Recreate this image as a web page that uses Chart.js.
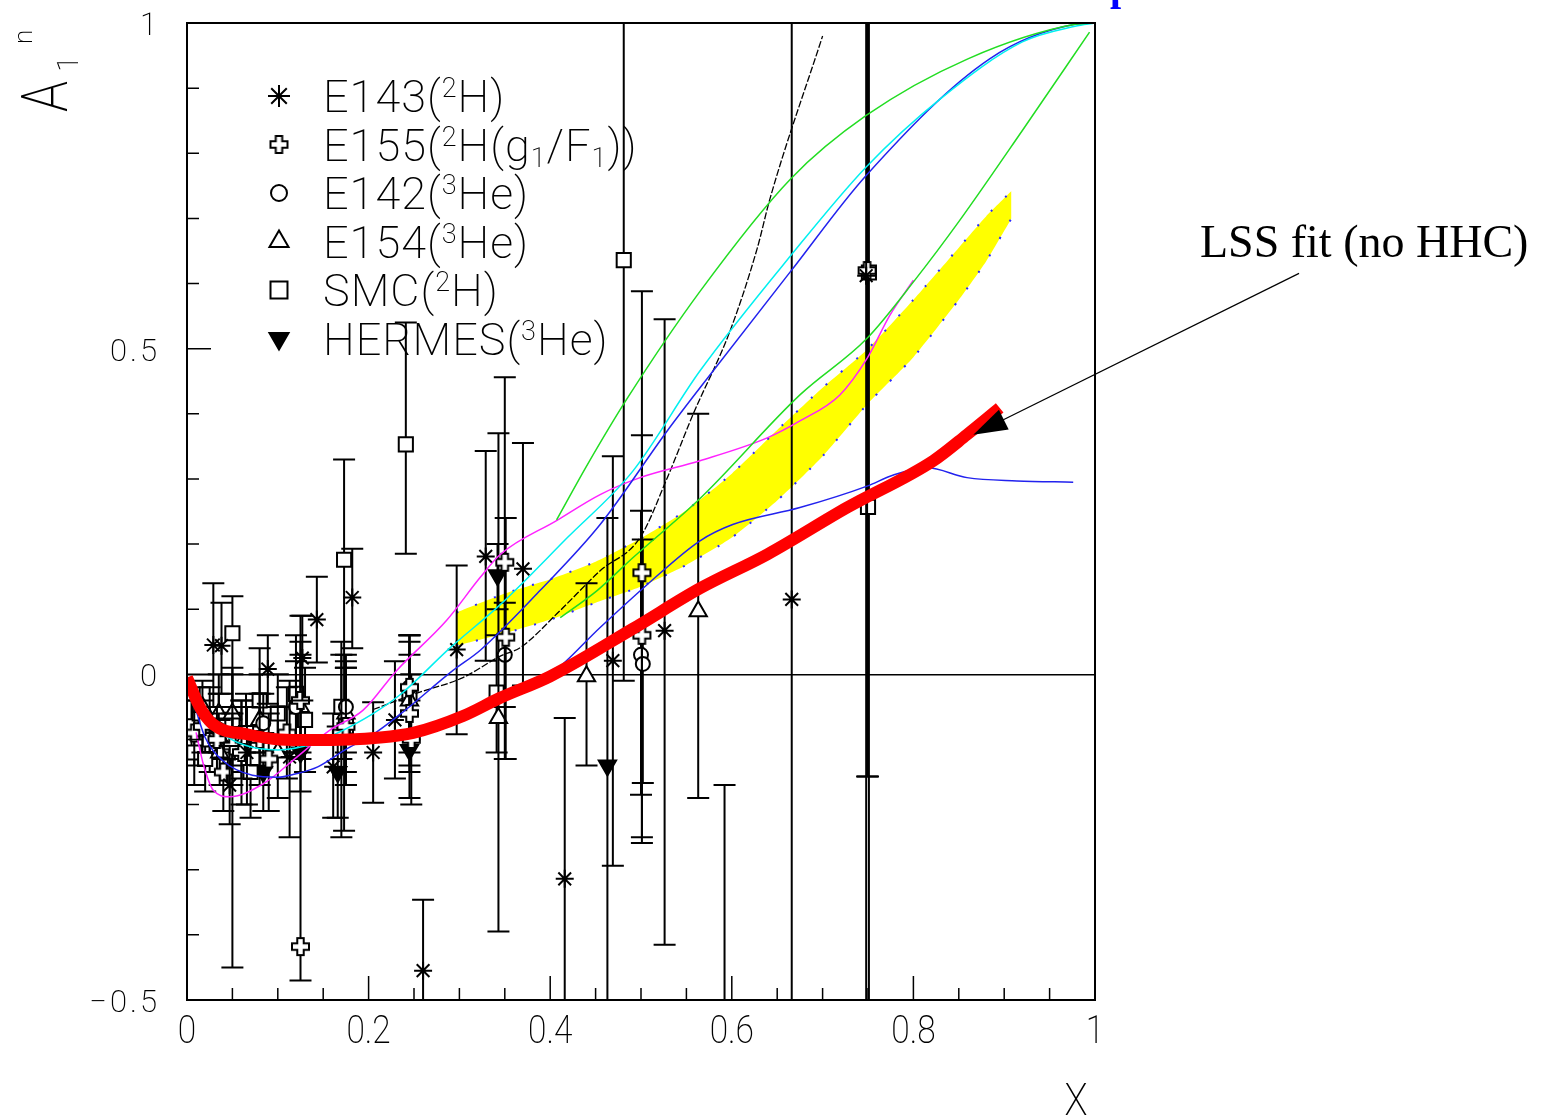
<!DOCTYPE html>
<html>
<head>
<meta charset="utf-8">
<script src="https://cdn.jsdelivr.net/npm/chart.js"></script>
<style>
  html, body { margin: 0; padding: 0; background: #fff; }
  canvas { display: block; }
</style>
</head>
<body>
<canvas id="chart" width="1541" height="1119" style="width:1541px;height:1119px"></canvas>
<script>
// Measurements: x, A1n, lower and upper end of each error bar
const e143X  = [0.029, 0.038, 0.047, 0.066, 0.089, 0.113, 0.127, 0.143, 0.161, 0.182, 0.205, 0.229, 0.260, 0.297, 0.329, 0.370, 0.416, 0.469, 0.526, 0.592, 0.666, 0.748];
const e143Y  = [0.045, 0.044, -0.170, -0.120, 0.008, -0.127, 0.025, 0.084, -0.142, 0.118, -0.120, -0.070, -0.455, 0.038, 0.181, 0.162, -0.314, 0.021, 0.067, -0.760, 0.115, 0.612];
const e143Lo = [-0.050, -0.030, -0.230, -0.200, -0.045, -0.250, -0.040, 0.018, -0.220, 0.040, -0.197, -0.160, -0.565, -0.092, 0.021, -0.017, -0.560, -0.294, -0.415, -1.300, -0.900, -0.700];
const e143Hi = [0.140, 0.110, -0.110, -0.050, 0.060, -0.010, 0.090, 0.150, -0.060, 0.193, -0.043, 0.020, -0.346, 0.167, 0.343, 0.355, -0.067, 0.335, 0.545, -0.170, 1.200, 1.200];

const e155X  = [0.008, 0.017, 0.033, 0.040, 0.050, 0.060, 0.080, 0.090, 0.110, 0.125, 0.125, 0.170, 0.175, 0.245, 0.245, 0.247, 0.350, 0.351, 0.501, 0.501, 0.749];
const e155Y  = [-0.090, -0.080, -0.100, -0.150, -0.110, -0.120, -0.100, -0.130, -0.090, -0.040, -0.418, -0.090, -0.080, -0.020, -0.060, -0.100, 0.172, 0.057, 0.156, 0.060, 0.620];
const e155Lo = [-0.140, -0.120, -0.150, -0.210, -0.170, -0.200, -0.170, -0.210, -0.160, -0.120, -0.470, -0.250, -0.170, -0.100, -0.150, -0.200, -0.130, -0.130, -0.259, -0.250, -0.157];
const e155Hi = [-0.040, -0.040, -0.050, -0.090, -0.050, -0.040, -0.030, -0.060, -0.020, 0.050, 0.090, 0.050, 0.010, 0.060, 0.030, 0.000, 0.456, 0.240, 0.588, 0.367, 1.200];

const e142X  = [0.035, 0.050, 0.084, 0.120, 0.175, 0.245, 0.350, 0.500, 0.502];
const e142Y  = [-0.085, -0.095, -0.075, -0.050, -0.050, -0.020, 0.030, 0.030, 0.016];
const e142Lo = [-0.110, -0.130, -0.120, -0.120, -0.120, -0.090, -0.050, -0.185, -0.167];
const e142Hi = [-0.060, -0.060, -0.030, 0.020, 0.020, 0.050, 0.110, 0.251, 0.207];

const e154X  = [0.017, 0.025, 0.035, 0.036, 0.050, 0.060, 0.080, 0.100, 0.125, 0.175, 0.245, 0.343, 0.440, 0.563];
const e154Y  = [-0.050, -0.070, -0.060, -0.120, -0.060, -0.100, -0.070, -0.120, -0.050, -0.060, -0.040, -0.067, -0.003, 0.097];
const e154Lo = [-0.090, -0.120, -0.120, -0.170, -0.130, -0.160, -0.140, -0.190, -0.130, -0.150, -0.140, -0.395, -0.140, -0.190];
const e154Hi = [-0.010, -0.020, 0.000, -0.070, 0.010, -0.040, 0.000, -0.050, 0.030, 0.030, 0.060, 0.370, 0.140, 0.400];

const smcX  = [0.005, 0.008, 0.014, 0.020, 0.025, 0.035, 0.045, 0.050, 0.050, 0.065, 0.070, 0.080, 0.100, 0.120, 0.130, 0.170, 0.173, 0.175, 0.241, 0.245, 0.341, 0.481, 0.750, 0.751];
const smcY  = [-0.080, -0.120, -0.060, -0.130, -0.100, -0.080, -0.120, 0.063, -0.070, -0.090, -0.150, -0.040, -0.060, -0.030, -0.070, -0.050, 0.176, -0.080, 0.353, -0.030, -0.028, 0.636, 0.257, 0.617];
const smcLo = [-0.120, -0.170, -0.100, -0.180, -0.150, -0.130, -0.170, -0.450, -0.140, -0.150, -0.220, -0.120, -0.120, -0.120, -0.150, -0.130, -0.240, -0.170, 0.185, -0.120, -0.120, -0.010, -0.157, -0.700];
const smcHi = [-0.040, -0.070, -0.020, -0.080, -0.050, -0.030, -0.070, 0.120, 0.000, -0.030, -0.080, 0.040, 0.000, 0.060, 0.010, 0.030, 0.330, 0.010, 0.540, 0.060, 0.060, 1.200, 1.200, 1.200];

const hermesX  = [0.033, 0.048, 0.066, 0.084, 0.125, 0.166, 0.245, 0.342, 0.463];
const hermesY  = [-0.100, -0.110, -0.100, -0.150, -0.120, -0.150, -0.116, 0.152, -0.140];
const hermesLo = [-0.130, -0.150, -0.150, -0.210, -0.180, -0.220, -0.190, 0.100, -0.520];
const hermesHi = [-0.070, -0.070, -0.050, -0.090, -0.060, -0.080, -0.040, 0.200, 0.240];

// Model curves
const lssX = [0, 0.014, 0.029, 0.066, 0.102, 0.139, 0.213, 0.249, 0.304, 0.345, 0.400, 0.491, 0.565, 0.639, 0.727, 0.822, 0.859, 0.895];
const lssY = [-0.005, -0.050, -0.077, -0.092, -0.100, -0.101, -0.097, -0.090, -0.064, -0.036, -0.003, 0.070, 0.132, 0.184, 0.256, 0.328, 0.368, 0.409];

const bandX  = [0.297, 0.350, 0.400, 0.450, 0.500, 0.550, 0.600, 0.650, 0.700, 0.750, 0.800, 0.850, 0.880, 0.908];
const bandHi = [0.095, 0.124, 0.146, 0.173, 0.209, 0.252, 0.308, 0.375, 0.440, 0.500, 0.575, 0.655, 0.703, 0.742];
const bandLo = [0.044, 0.063, 0.084, 0.110, 0.135, 0.168, 0.210, 0.267, 0.335, 0.416, 0.487, 0.575, 0.634, 0.700];

const green1X = [0.407, 0.441, 0.485, 0.565, 0.665, 0.748, 0.860, 0.978, 1.0];
const green1Y = [0.237, 0.322, 0.424, 0.588, 0.761, 0.858, 0.945, 0.998, 1.0];
const green2X = [0.411, 0.452, 0.491, 0.565, 0.675, 0.749, 0.802, 0.850, 0.920, 0.994];
const green2Y = [0.087, 0.129, 0.179, 0.270, 0.429, 0.516, 0.606, 0.695, 0.835, 0.986];
const cyanX = [0.009, 0.031, 0.064, 0.100, 0.138, 0.163, 0.204, 0.235, 0.290, 0.345, 0.419, 0.491, 0.565, 0.665, 0.748, 0.830, 0.920, 0.978, 1.0];
const cyanY = [-0.054, -0.084, -0.109, -0.116, -0.107, -0.092, -0.061, -0.031, 0.041, 0.107, 0.210, 0.312, 0.466, 0.643, 0.779, 0.884, 0.971, 0.995, 1.0];
const blue1X = [0.009, 0.020, 0.039, 0.072, 0.100, 0.119, 0.144, 0.174, 0.204, 0.235, 0.293, 0.323, 0.389, 0.455, 0.529, 0.565, 0.665, 0.748, 0.884, 0.978, 1.0];
const blue1Y = [-0.051, -0.097, -0.132, -0.155, -0.158, -0.153, -0.142, -0.116, -0.093, -0.061, 0.006, 0.037, 0.129, 0.230, 0.374, 0.440, 0.619, 0.766, 0.945, 0.998, 1.0];
const blue2X = [0.370, 0.400, 0.455, 0.507, 0.565, 0.601, 0.675, 0.749, 0.778, 0.815, 0.859, 0.914, 0.976];
const blue2Y = [-0.017, 0.000, 0.072, 0.138, 0.205, 0.230, 0.256, 0.289, 0.306, 0.317, 0.302, 0.297, 0.295];
const magentaX = [0.010, 0.018, 0.029, 0.047, 0.084, 0.121, 0.157, 0.194, 0.231, 0.286, 0.323, 0.345, 0.407, 0.455, 0.499, 0.565, 0.639, 0.675, 0.719, 0.749, 0.774, 0.800];
const magentaY = [-0.089, -0.138, -0.178, -0.188, -0.168, -0.127, -0.086, -0.055, 0.006, 0.083, 0.149, 0.184, 0.236, 0.276, 0.302, 0.328, 0.363, 0.389, 0.429, 0.485, 0.551, 0.605];
const blackX = [0.205, 0.253, 0.304, 0.345, 0.367, 0.411, 0.455, 0.499, 0.529, 0.557, 0.598, 0.628, 0.642, 0.700];
const blackY = [-0.054, -0.029, -0.005, 0.028, 0.041, 0.098, 0.159, 0.210, 0.302, 0.398, 0.527, 0.654, 0.730, 0.980];

const legendLabels = ['E143(^2H)', 'E155(^2H(g_1/F_1))', 'E142(^3He)', 'E154(^3He)', 'SMC(^2H)', 'HERMES(^3He)'];
const xTicks = [0, 0.2, 0.4, 0.6, 0.8, 1];
const yTicks = [-0.5, 0, 0.5, 1];
const fitLabel = 'LSS fit (no HHC)';

const FONT = 'Roboto, "Open Sans", "Liberation Sans", sans-serif';

const pts = (xs, ys) => xs.map((x, i) => ({ x: x, y: ys[i] }));

// open plus marker used for E155
function openCross(s) {
  const c = document.createElement('canvas');
  c.width = 2 * s + 4; c.height = 2 * s + 4;
  const g = c.getContext('2d');
  const a = s * 0.38, b = s, m = s + 2;
  g.beginPath();
  g.moveTo(m - a, m - b); g.lineTo(m + a, m - b); g.lineTo(m + a, m - a); g.lineTo(m + b, m - a);
  g.lineTo(m + b, m + a); g.lineTo(m + a, m + a); g.lineTo(m + a, m + b); g.lineTo(m - a, m + b);
  g.lineTo(m - a, m + a); g.lineTo(m - b, m + a); g.lineTo(m - b, m - a); g.lineTo(m - a, m - a);
  g.closePath();
  g.fillStyle = '#fff'; g.fill();
  g.lineWidth = 2; g.strokeStyle = '#000'; g.stroke();
  return c;
}
const crossImg = openCross(8.5);

function markerSet(label, xs, ys, lo, hi, style) {
  return Object.assign({
    label: label,
    data: pts(xs, ys),
    yLow: lo,
    yHigh: hi,
    showLine: false,
    borderColor: '#000',
    backgroundColor: '#fff',
    borderWidth: 2,
    order: 2
  }, style);
}

function curve(xs, ys, color, width, extra) {
  return Object.assign({
    data: pts(xs, ys),
    showLine: true,
    borderColor: color,
    borderWidth: width,
    pointRadius: 0,
    fill: false,
    cubicInterpolationMode: 'monotone',
    order: 1
  }, extra || {});
}

// superscript ^x and subscript _x in labels
function runs(str) {
  const out = [];
  for (let i = 0; i < str.length; i++) {
    const c = str[i];
    if ((c === '^' || c === '_') && i + 1 < str.length) { out.push({ ch: str[i + 1], mode: c }); i++; }
    else out.push({ ch: c, mode: '' });
  }
  return out;
}

function drawRich(ctx, str, x, y, o) {
  const rs = runs(str);
  const font = m => `${o.weight || 300} ${m ? Math.round(o.size * 0.6) : o.size}px ${o.family || FONT}`;
  let w = 0;
  rs.forEach(r => { ctx.font = font(r.mode); r.w = ctx.measureText(r.ch).width * (o.sx || 1); w += r.w + (o.gap || 0); });
  w -= (o.gap || 0);
  let cx = o.align === 'right' ? x - w : o.align === 'center' ? x - w / 2 : x;
  rs.forEach(r => {
    ctx.font = font(r.mode);
    const dy = r.mode === '^' ? -o.size * 0.33 : r.mode === '_' ? o.size * 0.14 : 0;
    ctx.save();
    ctx.translate(cx, y + dy);
    ctx.scale(o.sx || 1, 1);
    ctx.fillText(r.ch, 0, 0);
    ctx.restore();
    cx += r.w + (o.gap || 0);
  });
}

const markerDatasets = [
  markerSet('E143(2H)', e143X, e143Y, e143Lo, e143Hi, { pointStyle: 'star', pointRadius: 9, legendRadius: 11 }),
  markerSet('E155(2H(g1/F1))', e155X, e155Y, e155Lo, e155Hi, { pointStyle: crossImg, pointRadius: 9, legendRadius: 9 }),
  markerSet('E142(3He)', e142X, e142Y, e142Lo, e142Hi, { pointStyle: 'circle', pointRadius: 7, legendRadius: 8 }),
  markerSet('E154(3He)', e154X, e154Y, e154Lo, e154Hi, { pointStyle: 'triangle', pointRadius: 10, legendRadius: 11 }),
  markerSet('SMC(2H)', smcX, smcY, smcLo, smcHi, { pointStyle: 'rect', pointRadius: 10, legendRadius: 12 }),
  markerSet('HERMES(3He)', hermesX, hermesY, hermesLo, hermesHi, { pointStyle: 'triangle', pointRadius: 10, legendRadius: 11, rotation: 180, backgroundColor: '#000' })
];

// error bars, drawn just under each marker set
const errorBars = {
  id: 'errorBars',
  beforeDatasetDraw(chart, args) {
    const ds = chart.data.datasets[args.index];
    if (!ds.yLow) return;
    const { ctx, chartArea: a, scales: { x, y } } = chart;
    ctx.save();
    ctx.beginPath();
    ctx.rect(a.left, a.top, a.right - a.left, a.bottom - a.top);
    ctx.clip();
    ctx.strokeStyle = '#000';
    ctx.lineWidth = 2;
    ds.data.forEach((p, i) => {
      const px = x.getPixelForValue(p.x);
      const lo = y.getPixelForValue(ds.yLow[i]);
      const hi = y.getPixelForValue(ds.yHigh[i]);
      ctx.beginPath();
      ctx.moveTo(px, lo); ctx.lineTo(px, hi);
      ctx.moveTo(px - 11, lo); ctx.lineTo(px + 11, lo);
      ctx.moveTo(px - 11, hi); ctx.lineTo(px + 11, hi);
      ctx.stroke();
    });
    ctx.restore();
  }
};

// frame, inward ticks, labels, legend and the annotation
const decorations = {
  id: 'decorations',
  afterDraw(chart) {
    const { ctx, chartArea: a, scales: { x, y } } = chart;
    ctx.save();
    ctx.strokeStyle = '#000';
    ctx.fillStyle = '#000';
    ctx.lineWidth = 2;
    ctx.strokeRect(a.left, a.top, a.right - a.left, a.bottom - a.top);

    ctx.lineWidth = 1.5;
    ctx.beginPath();
    for (let i = 0; i <= 20; i++) {
      const v = i * 0.05, px = x.getPixelForValue(v);
      const len = (i % 4 === 0) ? 24 : 12;
      ctx.moveTo(px, a.bottom); ctx.lineTo(px, a.bottom - len);
    }
    for (let i = -5; i <= 10; i++) {
      const py = y.getPixelForValue(i / 10);
      const len = (i % 5 === 0) ? 24 : 12;
      ctx.moveTo(a.left, py); ctx.lineTo(a.left + len, py);
    }
    ctx.stroke();

    xTicks.forEach(v => drawRich(ctx, String(v), x.getPixelForValue(v), a.bottom + 43, { size: 38, align: 'center', sx: 0.88, weight: 200 }));
    yTicks.forEach(v => drawRich(ctx, String(v).replace('-', '\u2212'), a.left - 30, y.getPixelForValue(v) + 12, { size: 31, align: 'right', gap: 3, weight: 200 }));

    drawRich(ctx, 'X', 1076, 1115, { size: 45, align: 'center', sx: 0.85, weight: 200 });

    // rotated axis title A_1^n
    ctx.save();
    ctx.translate(67, 112);
    ctx.rotate(-Math.PI / 2);
    drawRich(ctx, 'A', 0, 0, { size: 64, sx: 0.8, weight: 200 });
    drawRich(ctx, '1', 40, 11, { size: 30, weight: 200 });
    drawRich(ctx, 'n', 68, -35, { size: 26, weight: 200 });
    ctx.restore();

    // legend
    markerDatasets.forEach((ds, i) => {
      const cy = 96 + i * 48.5;
      ctx.save();
      ctx.fillStyle = ds.backgroundColor;
      ctx.strokeStyle = '#000';
      ctx.lineWidth = 2;
      Chart.helpers.drawPoint(ctx, { pointStyle: ds.pointStyle, radius: ds.legendRadius, rotation: ds.rotation || 0, borderWidth: 2 }, 279, cy);
      ctx.restore();
      drawRich(ctx, legendLabels[i], 323, cy + 16, { size: 45, gap: 1, weight: 200 });
    });

    // arrow pointing at the LSS curve
    const tipX = x.getPixelForValue(0.866), tipY = y.getPixelForValue(0.368);
    const tailX = x.getPixelForValue(1.2247), tailY = y.getPixelForValue(0.6156);
    const dx = tipX - tailX, dy = tipY - tailY, d = Math.hypot(dx, dy);
    const ux = dx / d, uy = dy / d;
    ctx.lineWidth = 1.2;
    ctx.beginPath();
    ctx.moveTo(tailX, tailY);
    ctx.lineTo(tipX - ux * 20, tipY - uy * 20);
    ctx.stroke();
    ctx.beginPath();
    ctx.moveTo(tipX, tipY);
    ctx.lineTo(tipX - ux * 34 + uy * 11, tipY - uy * 34 - ux * 11);
    ctx.lineTo(tipX - ux * 34 - uy * 11, tipY - uy * 34 + ux * 11);
    ctx.closePath();
    ctx.fill();

    ctx.font = '46px "Liberation Serif", "Times New Roman", serif';
    ctx.textAlign = 'left';
    ctx.fillText(fitLabel, 1200, 257);

    // clipped title fragment at the top edge
    ctx.fillStyle = '#0000ff';
    ctx.font = 'bold 40px "Liberation Serif", serif';
    ctx.fillText('p', 1110, 0);
    ctx.restore();
  }
};

new Chart(document.getElementById('chart'), {
  type: 'scatter',
  data: {
    datasets: [
      curve(bandX, bandHi, '#2a2aff', 2, { order: 3, borderDash: [2, 18], cubicInterpolationMode: 'default', tension: 0.2 }),
      curve(bandX, bandLo, '#2a2aff', 2, { order: 3, borderDash: [2, 18], fill: '-1', backgroundColor: '#ffff00', cubicInterpolationMode: 'default', tension: 0.2 }),
      ...markerDatasets,
      curve(green1X, green1Y, '#22dd22', 1.5),
      curve(green2X, green2Y, '#22dd22', 1.5),
      curve(cyanX, cyanY, '#00f0f0', 1.5),
      curve(blue1X, blue1Y, '#2222ee', 1.5),
      curve(blue2X, blue2Y, '#2222ee', 1.5),
      curve(magentaX, magentaY, '#ff22ff', 1.5),
      curve(blackX, blackY, '#000000', 1.3, { borderDash: [7, 2] }),
      curve(lssX, lssY, '#ff0000', 12, { order: 0, borderCapStyle: 'butt' })
    ]
  },
  options: {
    responsive: false,
    animation: false,
    layout: { padding: { top: 23, right: 446, left: 0, bottom: 0 } },
    plugins: { legend: { display: false }, tooltip: { enabled: false } },
    scales: {
      x: {
        type: 'linear', min: 0, max: 1,
        afterFit: s => { s.height = 119; },
        ticks: { display: false },
        grid: { display: false },
        border: { display: false }
      },
      y: {
        type: 'linear', min: -0.5, max: 1,
        afterFit: s => { s.width = 187; },
        ticks: { display: false, stepSize: 0.1 },
        grid: {
          drawTicks: false,
          lineWidth: 1.5,
          color: c => (c.tick && Math.abs(c.tick.value) < 1e-9) ? '#000' : 'rgba(0,0,0,0)'
        },
        border: { display: false }
      }
    }
  },
  plugins: [errorBars, decorations]
});
</script>
</body>
</html>
